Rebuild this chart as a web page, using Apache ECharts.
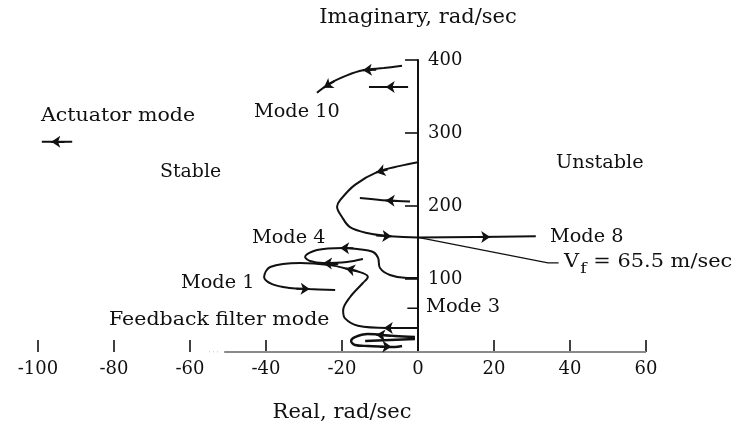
<!DOCTYPE html>
<html>
<head>
<meta charset="utf-8">
<script src="https://cdn.jsdelivr.net/npm/echarts@6/dist/echarts.min.js"></script>
<style>
  html, body { margin: 0; padding: 0; background: #fff; }
  #chart { width: 736px; height: 426px; }
</style>
</head>
<body>
<div id="chart"></div>
<script>
// ---- Data (real / imaginary in rad/sec) ----
const xTicks = [-100, -80, -60, -40, -20, 0, 20, 40, 60];
const yTicks = [100, 200, 300, 400];

const mode10Curve = [[-4.2, 392], [-9, 389], [-14.5, 386], [-18.7, 379], [-23.2, 368], [-26.6, 355]];
const mode10Short = [[-2.6, 363], [-12.9, 363]];
const actuatorMode = [[-91, 288], [-99, 288]];
const mode8Loop = [[0, 260], [-4.7, 255], [-10.5, 247], [-16.6, 229], [-20.5, 208], [-21.3, 199],
                   [-20, 185], [-17.9, 171], [-13.4, 163], [-7.4, 158.5], [0, 157], [15, 157.5], [31, 158.5]];
const mode200Short = [[-2.1, 206], [-8, 207.5], [-15.3, 211]];
const mode4Curve = [[0, 101.4], [-2.9, 101.4], [-7.4, 105.5], [-10, 115], [-10.5, 128.8], [-11.8, 137],
                    [-16, 141], [-19.7, 142.5], [-26.6, 139.7], [-29.7, 130], [-28.4, 124.7],
                    [-25, 122], [-18.7, 123.3], [-14.5, 127.4]];
const mode1Curve = [[0, 33], [-8, 33], [-15.8, 36], [-19.2, 46], [-19.7, 57], [-17.9, 75], [-14.5, 94.5],
                    [-13.2, 102.7], [-14.5, 108], [-18.4, 113.7], [-23.2, 119], [-31, 122],
                    [-38.9, 116.4], [-40.5, 102.7], [-38.4, 93], [-33.7, 87.7], [-28.9, 86.3], [-21.8, 85]];
const filterLoop = [[-0.8, 20.5], [-6.1, 21.9], [-13.2, 24.7], [-16.6, 20.5], [-17.6, 15], [-16.6, 9.6],
                    [-13.2, 8.2], [-6.1, 6.8], [-4.2, 8.2]];
const filterShort = [[-0.8, 17.8], [-13.9, 15]];
const vfLeader = [[0, 157], [34.2, 122], [37, 122]];
const mode3Tick = [[-2.8, 60], [0, 60]];
const baseline = [[-51, 0], [60, 0]];
const baselineDots = [[-55, 0], [-52.5, 0]];

// arrows: [tail, head]
const arrows = [
  [[-11, 386.8], [-14.5, 386]],
  [[-22, 371], [-24.8, 362]],
  [[-5.5, 363], [-8.5, 363]],
  [[-93, 288], [-96.5, 288]],
  [[-8, 250], [-11, 246]],
  [[-11, 159.5], [-7, 158.4]],
  [[14, 157.4], [19, 157.6]],
  [[-5, 207], [-8.5, 207.6]],
  [[-17, 142], [-20.5, 142.6]],
  [[-16, 111], [-19, 114.5]],
  [[-21, 121], [-25, 121.5]],
  [[-32, 86.8], [-28.5, 86.3]],
  [[-5.5, 33], [-9, 33]],
  [[-7, 22], [-11, 23.5]],
  [[-10, 7.5], [-7, 7.2]]
];

const FONT = 'DejaVu Serif';

const chart = echarts.init(document.getElementById('chart'), null, { renderer: 'canvas' });

function lineSeries(data, width) {
  return {
    type: 'line', data: data, smooth: 0.35, showSymbol: false, symbol: 'none',
    lineStyle: { color: '#111', width: width || 2 }, silent: true, animation: false, z: 3
  };
}

const series = [
  lineSeries(mode10Curve),
  lineSeries(mode10Short),
  lineSeries(actuatorMode),
  lineSeries(mode8Loop),
  lineSeries(mode200Short),
  lineSeries(mode4Curve),
  lineSeries(mode1Curve),
  lineSeries(filterLoop, 2.4),
  lineSeries(filterShort, 2.4),
  Object.assign(lineSeries(vfLeader, 1.2), { smooth: false }),
  Object.assign(lineSeries(mode3Tick, 1.5), { smooth: false }),
  { type: 'line', data: baseline, showSymbol: false, lineStyle: { color: '#8a8a8a', width: 1.8 }, silent: true, animation: false, z: 2 },
  { type: 'line', data: baselineDots, showSymbol: false, lineStyle: { color: '#aaa', width: 1.2, type: [1, 3] }, silent: true, animation: false, z: 2 },
  {
    type: 'lines', coordinateSystem: 'cartesian2d', polyline: false, silent: true, animation: false, z: 4,
    symbol: ['none', 'arrow'], symbolSize: 9,
    lineStyle: { color: '#111', width: 2, opacity: 1 },
    data: arrows.map(a => ({ coords: a }))
  }
];

const SX = 1.14;
function txt(text, left, cy, sx) {
  return {
    type: 'text', x: left, y: cy, scaleX: sx || SX,
    style: { text: text, x: 0, y: 0, font: '18px "' + FONT + '"', fill: '#111', verticalAlign: 'middle', align: 'left' }
  };
}

const option = {
  animation: false,
  backgroundColor: '#fff',
  grid: { left: 38, right: 90, top: 60, bottom: 74, containLabel: false, outerBoundsMode: 'none' },
  xAxis: {
    type: 'value', min: -100, max: 60, interval: 20,
    name: 'Real, rad/sec', nameLocation: 'middle', nameGap: 50,
    nameTextStyle: { fontFamily: FONT, fontSize: 21, color: '#111' },
    axisLine: { show: false, onZero: false },
    axisTick: { show: true, inside: true, length: 12, lineStyle: { color: '#111', width: 1.6 } },
    axisLabel: { margin: 8, fontFamily: FONT, fontSize: 18, color: '#111',
                 formatter: v => xTicks.indexOf(v) >= 0 ? String(v) : '' },
    splitLine: { show: false }
  },
  yAxis: {
    type: 'value', min: 0, max: 400, interval: 100,
    offset: -380,
    name: 'Imaginary, rad/sec', nameLocation: 'end', nameGap: 32,
    nameTextStyle: { fontFamily: FONT, fontSize: 21, color: '#111', align: 'center' },
    axisLine: { show: true, onZero: false, lineStyle: { color: '#111', width: 2 } },
    axisTick: { show: true, inside: false, length: 13, lineStyle: { color: '#111', width: 1.6 },
                interval: (i, v) => yTicks.indexOf(v) >= 0 },
    axisLabel: { inside: true, margin: 10, fontFamily: FONT, fontSize: 18, color: '#111',
                 formatter: v => yTicks.indexOf(v) >= 0 ? String(v) : '' },
    splitLine: { show: false }
  },
  series: series,
  graphic: [
    txt('Actuator mode', 41, 116),
    txt('Mode 10', 254, 112, 1.07),
    txt('Stable', 160, 172, 1.05),
    txt('Unstable', 556, 163, 1.07),
    txt('Mode 4', 252, 238, 1.07),
    txt('Mode 8', 550, 237, 1.07),
    {
      type: 'text', x: 564, y: 253, scaleX: 1.16,
      style: {
        text: '{v|V}{s|f}{v| = 65.5 m/sec}', x: 0, y: 0,
        rich: {
          v: { font: '18px "' + FONT + '"', fill: '#111', verticalAlign: 'top', lineHeight: 22 },
          s: { font: '15px "' + FONT + '"', fill: '#111', padding: [10, 0, 0, 1], lineHeight: 22 }
        }
      }
    },
    txt('Mode 1', 181, 283, 1.07),
    txt('Mode 3', 426, 307, 1.08),
    txt('Feedback filter mode', 109, 320)
  ]
};

chart.setOption(option);
</script>
</body>
</html>
